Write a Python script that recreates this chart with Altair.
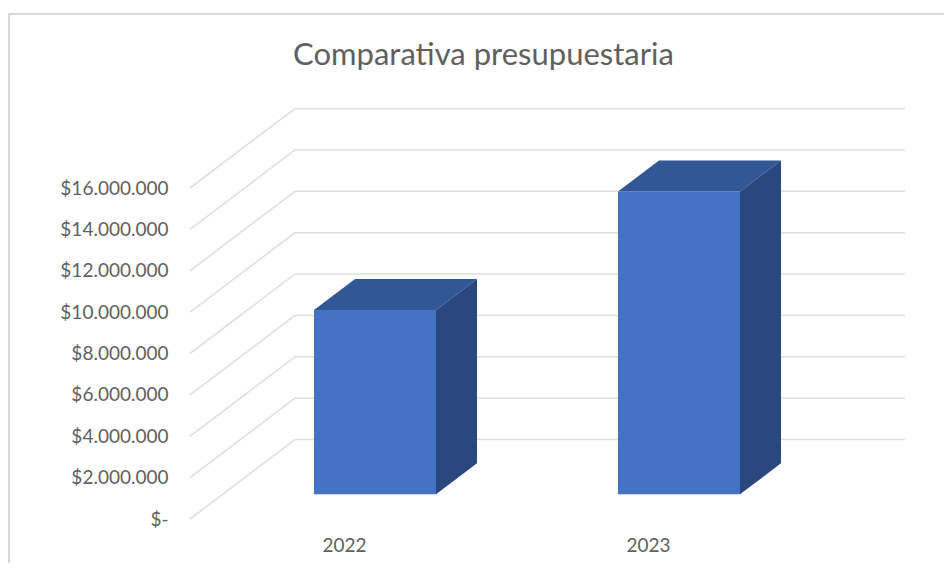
import altair as alt
import pandas as pd

TITLE = "Comparativa presupuestaria"
categories = ["2022", "2023"]
values = [8910000, 14640000]
tick_values = [0, 2000000, 4000000, 6000000, 8000000, 10000000, 12000000, 14000000, 16000000]
tick_labels = ["$-", "$2.000.000", "$4.000.000", "$6.000.000", "$8.000.000",
               "$10.000.000", "$12.000.000", "$14.000.000", "$16.000.000"]

# geometry in data units (x units = px on the plot, y units = money)
X_MAX = 715
WALL_DX = 105
WALL_DY = 3840000
BAR_LEFT = 124
BAR_STEP = 304
BAR_W = 122
BAR_DX = 41
BAR_DY = 1500000
BAR_BASE = 1194000
LABEL_SHIFT = 31

grid = pd.DataFrame({"v": tick_values})
grid["x0"] = 0
grid["x1"] = WALL_DX
grid["x2"] = X_MAX
grid["v_back"] = grid["v"] + WALL_DY

front, top, side = [], [], []
for i, (c, v) in enumerate(zip(categories, values)):
    l = BAR_LEFT + i * BAR_STEP
    r = l + BAR_W
    t = BAR_BASE + v
    front.append({"c": c, "l": l, "r": r, "b": BAR_BASE, "t": t})
    top.append({"c": c, "y": t, "a": l, "z": r})
    top.append({"c": c, "y": t + BAR_DY, "a": l + BAR_DX, "z": r + BAR_DX})
    side.append({"c": c, "x": r, "lo": BAR_BASE, "hi": t})
    side.append({"c": c, "x": r + BAR_DX, "lo": BAR_BASE + BAR_DY, "hi": t + BAR_DY})
front, top, side = map(pd.DataFrame, (front, top, side))

x_scale = alt.Scale(domain=[0, X_MAX], nice=False, zero=False)
y_scale = alt.Scale(domain=[tick_values[0], tick_values[-1]], nice=False)

label_positions = [BAR_LEFT + BAR_W / 2 + i * BAR_STEP - LABEL_SHIFT for i in range(len(categories))]
x_expr = "datum.value < %d ? '%s' : '%s'" % (label_positions[1] - 1, categories[0], categories[1])
y_expr = "[" + ",".join("'%s'" % s for s in tick_labels) + "][round(datum.value / 2000000)]"

GRID = "#dfdfdf"
TEXT = "#5f5f5f"
FONT = "Lato"

diag = alt.Chart(grid).mark_rule(color=GRID, strokeWidth=1.6).encode(
    x=alt.X("x0:Q", scale=x_scale, title=None,
            axis=alt.Axis(values=label_positions, labelExpr=x_expr, domain=False, ticks=False, grid=False,
                          labelPadding=17, labelFontSize=19, labelColor=TEXT, labelFont=FONT, labelFlush=False)),
    x2="x1:Q",
    y=alt.Y("v:Q", scale=y_scale, title=None,
            axis=alt.Axis(values=tick_values, labelExpr=y_expr, domain=False, ticks=False, grid=False,
                          labelPadding=22, labelFontSize=19, labelColor=TEXT, labelFont=FONT)),
    y2="v_back:Q",
)
wall = alt.Chart(grid).mark_rule(color=GRID, strokeWidth=1.6).encode(
    x=alt.X("x1:Q", scale=x_scale), x2="x2:Q", y=alt.Y("v_back:Q", scale=y_scale),
)
frame_top = alt.Chart(grid.head(1)).mark_rule(color="#d9d9d9", strokeWidth=2).encode(
    x=alt.value(-181), x2=alt.value(754), y=alt.value(-174),
)
frame_left = alt.Chart(grid.head(1)).mark_rule(color="#d9d9d9", strokeWidth=2).encode(
    x=alt.value(-181), y=alt.value(-175), y2=alt.value(375),
)
front_m = alt.Chart(front).mark_rect(color="#4472C4").encode(
    x=alt.X("l:Q", scale=x_scale), x2="r:Q", y=alt.Y("b:Q", scale=y_scale), y2="t:Q",
)
top_m = alt.Chart(top).mark_area(color="#325796", orient="horizontal").encode(
    y=alt.Y("y:Q", scale=y_scale), x=alt.X("a:Q", scale=x_scale), x2="z:Q", detail="c:N",
)
side_m = alt.Chart(side).mark_area(color="#2A477E", orient="vertical").encode(
    x=alt.X("x:Q", scale=x_scale), y=alt.Y("lo:Q", scale=y_scale), y2="hi:Q", detail="c:N",
)

chart = alt.layer(diag, wall, frame_top, frame_left, top_m, side_m, front_m).properties(
    width=715,
    height=331,
    padding={"left": 182, "top": 180, "right": 39, "bottom": 44},
    autosize=alt.AutoSizeParams(type="none"),
    background="white",
    title=alt.TitleParams(TITLE, fontSize=31, fontWeight="normal", font=FONT, color=TEXT,
                          anchor="middle", dx=-64, offset=-60),
).configure_view(stroke=None)

chart.save("out.html", embed_options={"renderer": "svg", "actions": False})
